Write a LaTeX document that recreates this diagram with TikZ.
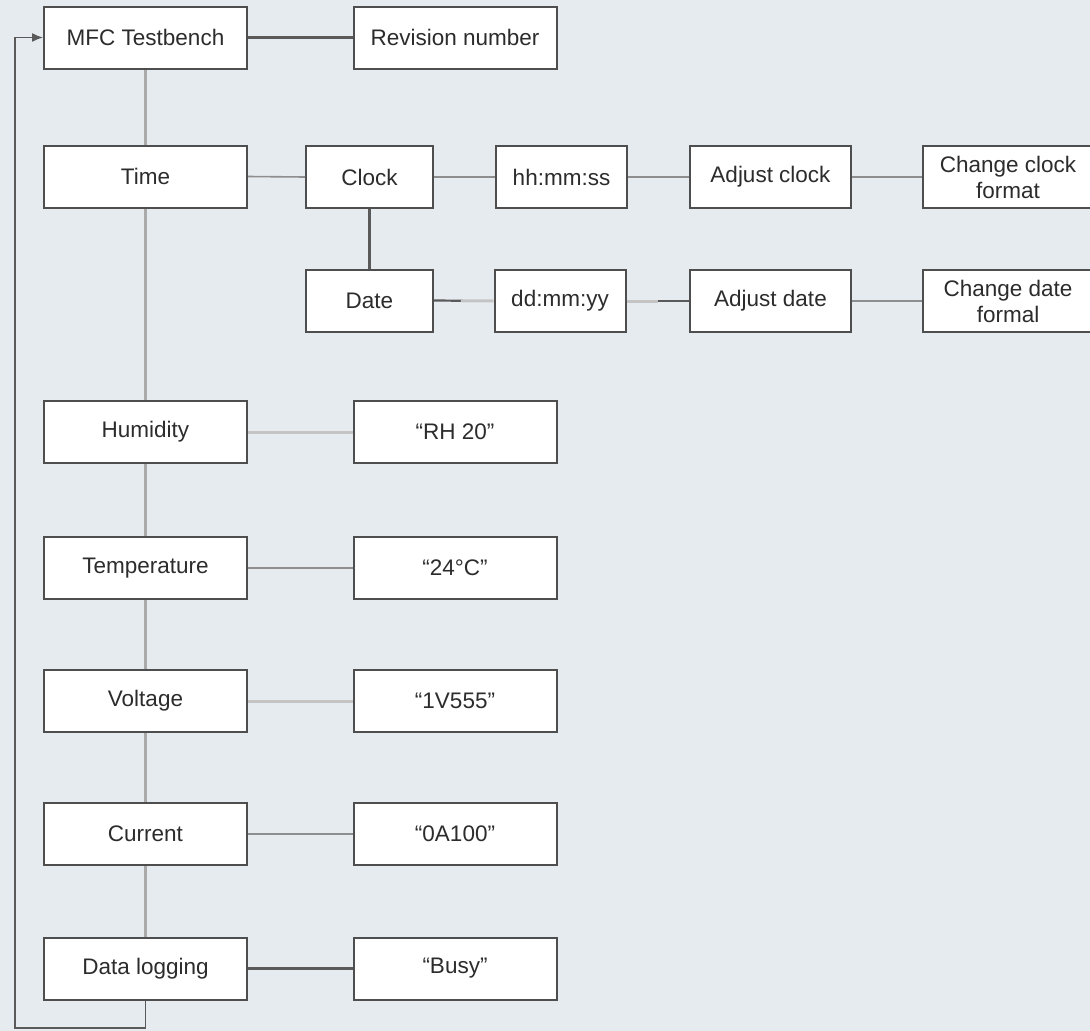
\documentclass[tikz,border=0pt]{standalone}
\usepackage{fontspec}
\setmainfont{Liberation Sans}
\usetikzlibrary{arrows.meta,calc}
\definecolor{bg}{HTML}{E6EBF0}
\definecolor{boxline}{HTML}{4E4E4E}
\definecolor{txt}{HTML}{2C2C2C}
\definecolor{lnDark}{HTML}{5A5A5A}
\definecolor{lnMid}{HTML}{8E8E8E}
\definecolor{lnLight}{HTML}{C4C4C4}
\tikzset{
  menubox/.style={draw=boxline, line width=2pt, fill=white, text=txt,
    minimum height=62pt, inner sep=2pt, align=center,
    font=\fontsize{22.5}{26}\selectfont},
  wide/.style={menubox, minimum width=203pt},
  narrow/.style={menubox, minimum width=127pt},
  midw/.style={menubox, minimum width=131pt},
  adjw/.style={menubox, minimum width=161pt},
  chgw/.style={menubox, minimum width=170pt},
  darkln/.style={draw=lnDark, line width=2.2pt},
  midln/.style={draw=lnMid, line width=1.6pt},
  lightln/.style={draw=lnLight, line width=3pt},
  spine/.style={draw=lnMid!75, line width=3pt},
  loopln/.style={draw=lnDark, line width=1.4pt}
}
\begin{document}
\begin{tikzpicture}[x=1pt, y=-1pt]
  \fill[bg] (0,0) rectangle (1090,1031);
  \useasboundingbox (0,0) rectangle (1090,1031);

  % main menu column
  \node[wide] (mfc)  at (145.5,37.5)  {MFC Testbench};
  \node[wide] (time) at (145.5,176.5) {Time};
  \node[wide] (hum)  at (145.5,432)   {Humidity};
  \node[wide] (temp) at (145.5,568)   {Temperature};
  \node[wide] (volt) at (145.5,701)   {Voltage};
  \node[wide] (curr) at (145.5,834)   {Current};
  \node[wide] (log)  at (145.5,968.5) {Data logging};

  % values shown for each entry
  \node[wide] (rev)  at (455,37.5) {Revision number};
  \node[wide] (rh)   at (455,432)  {“RH 20”};
  \node[wide] (tval) at (455,568)  {“24°C”};
  \node[wide] (vval) at (455,701)  {“1V555”};
  \node[wide] (cval) at (455,834)  {“0A100”};
  \node[wide] (busy) at (455,968.5) {“Busy”};

  % time sub-menu
  \node[narrow] (clock) at (369.5,177)   {Clock};
  \node[narrow] (date)  at (369.5,300.5) {Date};
  \node[midw]   (hms)   at (561.5,177)   {hh:mm:ss};
  \node[midw]   (dmy)   at (560,301)     {dd:mm:yy};
  \node[adjw]   (adjc)  at (770.5,177)   {Adjust clock};
  \node[adjw]   (adjd)  at (770.5,301)   {Adjust date};
  \node[chgw]   (chgc)  at (1008,177)    {Change clock\\format};
  \node[chgw]   (chgd)  at (1008,301)    {Change date\\formal};

  % vertical spine of the main menu
  \draw[spine] (mfc.south) -- (time.north);
  \draw[spine] (time.south) -- (hum.north);
  \draw[spine] (hum.south) -- (temp.north);
  \draw[spine] (temp.south) -- (volt.north);
  \draw[spine] (volt.south) -- (curr.north);
  \draw[spine] (curr.south) -- (log.north);

  % horizontal links
  \draw[darkln]  (mfc.east) -- (rev.west);
  \draw[midln]   (time.east) -- (clock.west);
  \draw[midln]   (clock.east) -- (hms.west);
  \draw[midln]   (hms.east) -- (adjc.west);
  \draw[midln]   (adjc.east) -- (chgc.west);
  \draw[draw=lnDark, line width=3pt] (clock.south) -- (date.north);
  \coordinate (dm) at ($(date.east)!0.45!(dmy.west)$);
  \draw[darkln]  (date.east) -- (dm);
  \draw[lightln] (dm) -- (dmy.west);
  \coordinate (am) at ($(dmy.east)!0.5!(adjd.west)$);
  \draw[lightln] (dmy.east) -- (am);
  \draw[darkln]  (am) -- (adjd.west);
  \draw[midln]   (adjd.east) -- (chgd.west);

  \draw[lightln] (hum.east) -- (rh.west);
  \draw[midln]   (temp.east) -- (tval.west);
  \draw[lightln] (volt.east) -- (vval.west);
  \draw[midln]   (curr.east) -- (cval.west);
  \draw[draw=lnDark, line width=3pt] (log.east) -- (busy.west);

  % return path from the last entry back to the top
  \coordinate (lb) at (145.5,1028);
  \coordinate (ll) at (15,1028);
  \coordinate (lt) at (15,37.5);
  \draw[loopln, -{Latex[length=11pt,width=9pt]}]
    (log.south) -- (lb) -- (ll) -- (lt) -- (mfc.west);
\end{tikzpicture}
\end{document}
